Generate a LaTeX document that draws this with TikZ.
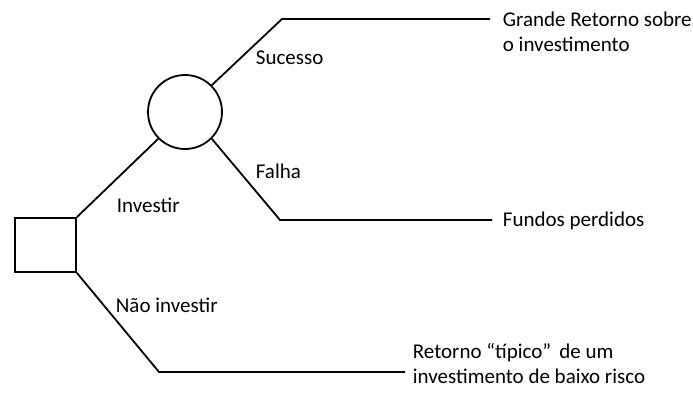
\documentclass[tikz,border=0pt]{standalone}
\usepackage{fontspec}
\setmainfont{Carlito}
\begin{document}
\begin{tikzpicture}[x=1pt,y=-1pt,line width=1.8pt,
    lbl/.style={anchor=base west,inner sep=0pt,align=left,font=\fontsize{21}{25}\selectfont}]
        \useasboundingbox (0,0) rectangle (693,396);
        \node[draw,minimum width=61pt,minimum height=54pt,inner sep=0pt] (dec) at (45.5,245) {};
        \node[draw,circle,minimum size=74pt,inner sep=0pt] (chance) at (185,112) {};
        \coordinate (upbend) at (282,19);
        \coordinate (upend) at (490,19);
        \coordinate (lowbend) at (280,220);
        \coordinate (lowend) at (492,220);
        \coordinate (nobend) at (159,372);
        \coordinate (noend) at (405,372);
        \draw (dec.north east) -- (chance.225);
        \draw (chance.45) -- (upbend) -- (upend);
        \draw (chance.-45) -- (lowbend) -- (lowend);
        \draw (dec.south east) -- (nobend) -- (noend);
        \node[lbl] (succ) at (255,65) {Sucesso};
        \node[lbl] (fail) at (255,178) {Falha};
        \node[lbl] (inv) at (116,212) {Investir};
        \node[lbl] (noinv) at (115,312) {Não investir};
        % base of a two-line node is its last line
        \node[lbl] (big) at (502,52) {Grande Retorno sobre\\o investimento};
        \node[lbl] (lost) at (502,226) {Fundos perdidos};
        \node[lbl] (typ) at (412,383) {Retorno “típico”\, de um\\investimento de baixo risco};
\end{tikzpicture}
\end{document}
